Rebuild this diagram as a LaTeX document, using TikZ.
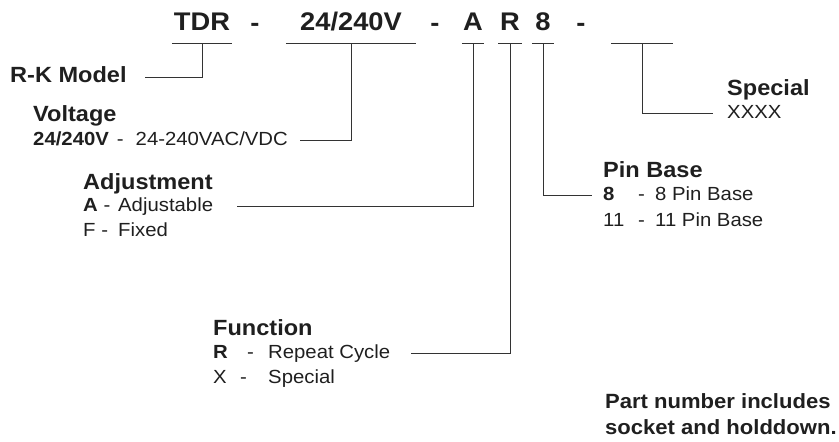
\documentclass[tikz,border=0pt]{standalone}
\usepackage{fontspec}
\setmainfont{Liberation Sans}[FakeStretch=1.07]
\begin{document}
\begin{tikzpicture}[x=1pt, y=-1pt,
  every node/.style={inner sep=0pt, text=black!88},
  code/.style={font=\fontsize{25.5}{30}\bfseries\selectfont, text depth=12pt, anchor=south},
  sep/.style={font=\fontsize{25.5}{30}\bfseries\selectfont, anchor=base},
  head/.style={font=\fontsize{22}{26}\bfseries\selectfont, anchor=base west},
  item/.style={font=\fontsize{19}{23}\selectfont, anchor=base west, text height=10pt, text depth=0pt},
  uline/.style={draw=black!80, line width=0.9pt},
  lead/.style={draw=black!80, line width=0.9pt}]
  \useasboundingbox (0,0) rectangle (839,442);

  % Part number
  \node[code, minimum width=60pt]  (tdr)  at (202,43) {TDR};
  \node[sep]                       (d1)   at (255,31) {-};
  \node[code, minimum width=130pt] (volt) at (351,43) {24/240V};
  \node[sep]                       (d2)   at (435,31) {-};
  \node[code, minimum width=22pt]  (adj)  at (473,43) {A};
  \node[code, minimum width=23pt]  (fun)  at (510,43) {R};
  \node[code, minimum width=22pt]  (pin)  at (543,43) {8};
  \node[sep]                       (d3)   at (581,31) {-};
  \node[code, minimum width=61pt]  (spc)  at (642,43) {};
  \foreach \n in {tdr,volt,adj,fun,pin,spc}
    \draw[uline] (\n.south west) -- (\n.south east);

  % Legend
  \node[head, text height=10pt, text depth=0pt] (rk) at (10,82) {R-K Model};

  \node[head] (volthead) at (33,121) {Voltage};
  \node[item] (voltitem) at (33,145) {\textbf{24/240V}\hspace{8pt}-\hspace{12pt}24-240VAC/VDC};

  \node[head] (adjhead) at (83,189) {Adjustment};
  \node[item] (adjA) at (83,211) {\makebox[35pt][l]{\textbf{A} -}Adjustable};
  \node[item] (adjF) at (83,236) {\makebox[35pt][l]{F -}Fixed};

  \node[head] (funhead) at (213,335) {Function};
  \node[item] (funR) at (213,358) {\makebox[34pt][l]{\textbf{R}}\makebox[21pt][l]{-}Repeat Cycle};
  \node[item] (funX) at (213,383) {\makebox[27pt][l]{X}\makebox[28pt][l]{-}Special};

  \node[head] (pinhead) at (603,177) {Pin Base};
  \node[item] (pin8) at (603,200) {\makebox[35pt][l]{\textbf{8}}\makebox[17pt][l]{-}8 Pin Base};
  \node[item] (pin11) at (603,226) {\makebox[35pt][l]{11}\makebox[17pt][l]{-}11 Pin Base};

  \node[head] (spchead) at (727,95) {Special};
  \node[item] (spcitem) at (727,118) {XXXX};

  \node[head, font=\fontsize{20.6}{25}\bfseries\selectfont] (note1) at (605,408) {Part number includes};
  \node[head, font=\fontsize{20.6}{25}\bfseries\selectfont] (note2) at (605,434) {socket and holddown.};

  % Leaders
  \draw[lead, shorten >=18pt] (tdr.south)  |- (rk.east);
  \draw[lead, shorten >=12pt] (volt.south) |- (voltitem.east);
  \draw[lead, shorten >=24pt] (adj.south)  |- (adjA.east);
  \draw[lead, shorten >=21pt] (fun.south)  |- (funR.east);
  \draw[lead, shorten >=11pt] (pin.south)  |- (pin8.west);
  \draw[lead, shorten >=14pt] (spc.south)  |- (spcitem.west);
\end{tikzpicture}
\end{document}
